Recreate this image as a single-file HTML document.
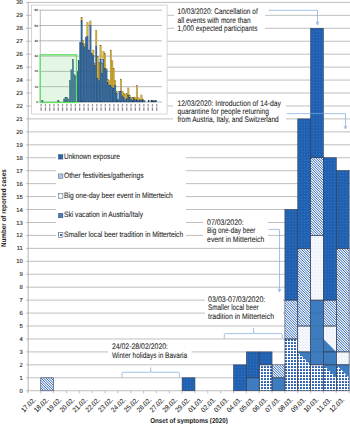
<!DOCTYPE html><html><head><meta charset="utf-8"><style>html,body{margin:0;padding:0;background:#fff;width:350px;height:424px;overflow:hidden}svg{display:block}</style></head><body>
<svg width="350" height="424" viewBox="0 0 350 424" font-family="Liberation Sans, sans-serif" text-rendering="geometricPrecision">
<defs>
<pattern id="pDark" patternUnits="userSpaceOnUse" x="0.5" y="0.5" width="3" height="3"><rect width="3" height="3" fill="#1a5aab"/><rect x="0.25" y="0.25" width="1.5" height="1.5" rx="0.4" fill="#4282cf"/></pattern>
<pattern id="pStripe" patternUnits="userSpaceOnUse" width="2.5" height="2.5"><rect width="2.5" height="2.5" fill="#ffffff"/><path d="M0,0 L0.62,0 L2.5,1.88 L2.5,2.5 L1.88,2.5 L0,0.62 Z M0,1.88 L0,2.5 L0.62,2.5 Z M1.88,0 L2.5,0 L2.5,0.62 Z" fill="#2a68c0"/></pattern>
<pattern id="pLight" patternUnits="userSpaceOnUse" width="3" height="3"><rect width="3" height="3" fill="#fbfcff"/><circle cx="0.75" cy="0.75" r="0.55" fill="#ccdaf0"/><circle cx="2.25" cy="2.25" r="0.55" fill="#ccdaf0"/></pattern>
<pattern id="pBold" patternUnits="userSpaceOnUse" x="0" y="0" width="3" height="3"><rect width="3" height="3" fill="#ffffff"/><rect x="0.0" y="0.0" width="1.95" height="1.95" rx="0.4" fill="#1450aa"/></pattern>
</defs>
<rect width="350" height="424" fill="#fff"/>
<line x1="28.20" y1="390.75" x2="350" y2="390.75" stroke="#bcbcbc" stroke-width="0.95"/>
<line x1="26.2" y1="390.75" x2="28.20" y2="390.75" stroke="#a8a8a8" stroke-width="0.8"/>
<text x="22.8" y="392.80" font-size="5.9" text-anchor="end" fill="#2a2a2a" stroke="#2a2a2a" stroke-width="0.12">0</text>
<line x1="28.20" y1="377.81" x2="350" y2="377.81" stroke="#bcbcbc" stroke-width="0.95"/>
<line x1="26.2" y1="377.81" x2="28.20" y2="377.81" stroke="#a8a8a8" stroke-width="0.8"/>
<text x="22.8" y="379.86" font-size="5.9" text-anchor="end" fill="#2a2a2a" stroke="#2a2a2a" stroke-width="0.12">1</text>
<line x1="28.20" y1="364.86" x2="350" y2="364.86" stroke="#bcbcbc" stroke-width="0.95"/>
<line x1="26.2" y1="364.86" x2="28.20" y2="364.86" stroke="#a8a8a8" stroke-width="0.8"/>
<text x="22.8" y="366.91" font-size="5.9" text-anchor="end" fill="#2a2a2a" stroke="#2a2a2a" stroke-width="0.12">2</text>
<line x1="28.20" y1="351.92" x2="350" y2="351.92" stroke="#bcbcbc" stroke-width="0.95"/>
<line x1="26.2" y1="351.92" x2="28.20" y2="351.92" stroke="#a8a8a8" stroke-width="0.8"/>
<text x="22.8" y="353.97" font-size="5.9" text-anchor="end" fill="#2a2a2a" stroke="#2a2a2a" stroke-width="0.12">3</text>
<line x1="28.20" y1="338.97" x2="350" y2="338.97" stroke="#bcbcbc" stroke-width="0.95"/>
<line x1="26.2" y1="338.97" x2="28.20" y2="338.97" stroke="#a8a8a8" stroke-width="0.8"/>
<text x="22.8" y="341.02" font-size="5.9" text-anchor="end" fill="#2a2a2a" stroke="#2a2a2a" stroke-width="0.12">4</text>
<line x1="28.20" y1="326.02" x2="350" y2="326.02" stroke="#bcbcbc" stroke-width="0.95"/>
<line x1="26.2" y1="326.02" x2="28.20" y2="326.02" stroke="#a8a8a8" stroke-width="0.8"/>
<text x="22.8" y="328.07" font-size="5.9" text-anchor="end" fill="#2a2a2a" stroke="#2a2a2a" stroke-width="0.12">5</text>
<line x1="28.20" y1="313.08" x2="350" y2="313.08" stroke="#bcbcbc" stroke-width="0.95"/>
<line x1="26.2" y1="313.08" x2="28.20" y2="313.08" stroke="#a8a8a8" stroke-width="0.8"/>
<text x="22.8" y="315.13" font-size="5.9" text-anchor="end" fill="#2a2a2a" stroke="#2a2a2a" stroke-width="0.12">6</text>
<line x1="28.20" y1="300.13" x2="350" y2="300.13" stroke="#bcbcbc" stroke-width="0.95"/>
<line x1="26.2" y1="300.13" x2="28.20" y2="300.13" stroke="#a8a8a8" stroke-width="0.8"/>
<text x="22.8" y="302.19" font-size="5.9" text-anchor="end" fill="#2a2a2a" stroke="#2a2a2a" stroke-width="0.12">7</text>
<line x1="28.20" y1="287.19" x2="350" y2="287.19" stroke="#bcbcbc" stroke-width="0.95"/>
<line x1="26.2" y1="287.19" x2="28.20" y2="287.19" stroke="#a8a8a8" stroke-width="0.8"/>
<text x="22.8" y="289.24" font-size="5.9" text-anchor="end" fill="#2a2a2a" stroke="#2a2a2a" stroke-width="0.12">8</text>
<line x1="28.20" y1="274.25" x2="350" y2="274.25" stroke="#bcbcbc" stroke-width="0.95"/>
<line x1="26.2" y1="274.25" x2="28.20" y2="274.25" stroke="#a8a8a8" stroke-width="0.8"/>
<text x="22.8" y="276.30" font-size="5.9" text-anchor="end" fill="#2a2a2a" stroke="#2a2a2a" stroke-width="0.12">9</text>
<line x1="28.20" y1="261.30" x2="350" y2="261.30" stroke="#bcbcbc" stroke-width="0.95"/>
<line x1="26.2" y1="261.30" x2="28.20" y2="261.30" stroke="#a8a8a8" stroke-width="0.8"/>
<text x="22.8" y="263.35" font-size="5.9" text-anchor="end" fill="#2a2a2a" stroke="#2a2a2a" stroke-width="0.12">10</text>
<line x1="28.20" y1="248.35" x2="350" y2="248.35" stroke="#bcbcbc" stroke-width="0.95"/>
<line x1="26.2" y1="248.35" x2="28.20" y2="248.35" stroke="#a8a8a8" stroke-width="0.8"/>
<text x="22.8" y="250.41" font-size="5.9" text-anchor="end" fill="#2a2a2a" stroke="#2a2a2a" stroke-width="0.12">11</text>
<line x1="28.20" y1="235.41" x2="350" y2="235.41" stroke="#bcbcbc" stroke-width="0.95"/>
<line x1="26.2" y1="235.41" x2="28.20" y2="235.41" stroke="#a8a8a8" stroke-width="0.8"/>
<text x="22.8" y="237.46" font-size="5.9" text-anchor="end" fill="#2a2a2a" stroke="#2a2a2a" stroke-width="0.12">12</text>
<line x1="28.20" y1="222.47" x2="350" y2="222.47" stroke="#bcbcbc" stroke-width="0.95"/>
<line x1="26.2" y1="222.47" x2="28.20" y2="222.47" stroke="#a8a8a8" stroke-width="0.8"/>
<text x="22.8" y="224.52" font-size="5.9" text-anchor="end" fill="#2a2a2a" stroke="#2a2a2a" stroke-width="0.12">13</text>
<line x1="28.20" y1="209.52" x2="350" y2="209.52" stroke="#bcbcbc" stroke-width="0.95"/>
<line x1="26.2" y1="209.52" x2="28.20" y2="209.52" stroke="#a8a8a8" stroke-width="0.8"/>
<text x="22.8" y="211.57" font-size="5.9" text-anchor="end" fill="#2a2a2a" stroke="#2a2a2a" stroke-width="0.12">14</text>
<line x1="28.20" y1="196.57" x2="350" y2="196.57" stroke="#bcbcbc" stroke-width="0.95"/>
<line x1="26.2" y1="196.57" x2="28.20" y2="196.57" stroke="#a8a8a8" stroke-width="0.8"/>
<text x="22.8" y="198.62" font-size="5.9" text-anchor="end" fill="#2a2a2a" stroke="#2a2a2a" stroke-width="0.12">15</text>
<line x1="28.20" y1="183.63" x2="350" y2="183.63" stroke="#bcbcbc" stroke-width="0.95"/>
<line x1="26.2" y1="183.63" x2="28.20" y2="183.63" stroke="#a8a8a8" stroke-width="0.8"/>
<text x="22.8" y="185.68" font-size="5.9" text-anchor="end" fill="#2a2a2a" stroke="#2a2a2a" stroke-width="0.12">16</text>
<line x1="28.20" y1="170.69" x2="350" y2="170.69" stroke="#bcbcbc" stroke-width="0.95"/>
<line x1="26.2" y1="170.69" x2="28.20" y2="170.69" stroke="#a8a8a8" stroke-width="0.8"/>
<text x="22.8" y="172.74" font-size="5.9" text-anchor="end" fill="#2a2a2a" stroke="#2a2a2a" stroke-width="0.12">17</text>
<line x1="28.20" y1="157.74" x2="350" y2="157.74" stroke="#bcbcbc" stroke-width="0.95"/>
<line x1="26.2" y1="157.74" x2="28.20" y2="157.74" stroke="#a8a8a8" stroke-width="0.8"/>
<text x="22.8" y="159.79" font-size="5.9" text-anchor="end" fill="#2a2a2a" stroke="#2a2a2a" stroke-width="0.12">18</text>
<line x1="28.20" y1="144.79" x2="350" y2="144.79" stroke="#bcbcbc" stroke-width="0.95"/>
<line x1="26.2" y1="144.79" x2="28.20" y2="144.79" stroke="#a8a8a8" stroke-width="0.8"/>
<text x="22.8" y="146.84" font-size="5.9" text-anchor="end" fill="#2a2a2a" stroke="#2a2a2a" stroke-width="0.12">19</text>
<line x1="28.20" y1="131.85" x2="350" y2="131.85" stroke="#bcbcbc" stroke-width="0.95"/>
<line x1="26.2" y1="131.85" x2="28.20" y2="131.85" stroke="#a8a8a8" stroke-width="0.8"/>
<text x="22.8" y="133.90" font-size="5.9" text-anchor="end" fill="#2a2a2a" stroke="#2a2a2a" stroke-width="0.12">20</text>
<line x1="28.20" y1="118.90" x2="350" y2="118.90" stroke="#bcbcbc" stroke-width="0.95"/>
<line x1="26.2" y1="118.90" x2="28.20" y2="118.90" stroke="#a8a8a8" stroke-width="0.8"/>
<text x="22.8" y="120.95" font-size="5.9" text-anchor="end" fill="#2a2a2a" stroke="#2a2a2a" stroke-width="0.12">21</text>
<line x1="28.20" y1="105.96" x2="350" y2="105.96" stroke="#bcbcbc" stroke-width="0.95"/>
<line x1="26.2" y1="105.96" x2="28.20" y2="105.96" stroke="#a8a8a8" stroke-width="0.8"/>
<text x="22.8" y="108.01" font-size="5.9" text-anchor="end" fill="#2a2a2a" stroke="#2a2a2a" stroke-width="0.12">22</text>
<line x1="28.20" y1="93.01" x2="350" y2="93.01" stroke="#bcbcbc" stroke-width="0.95"/>
<line x1="26.2" y1="93.01" x2="28.20" y2="93.01" stroke="#a8a8a8" stroke-width="0.8"/>
<text x="22.8" y="95.06" font-size="5.9" text-anchor="end" fill="#2a2a2a" stroke="#2a2a2a" stroke-width="0.12">23</text>
<line x1="28.20" y1="80.07" x2="350" y2="80.07" stroke="#bcbcbc" stroke-width="0.95"/>
<line x1="26.2" y1="80.07" x2="28.20" y2="80.07" stroke="#a8a8a8" stroke-width="0.8"/>
<text x="22.8" y="82.12" font-size="5.9" text-anchor="end" fill="#2a2a2a" stroke="#2a2a2a" stroke-width="0.12">24</text>
<line x1="28.20" y1="67.12" x2="350" y2="67.12" stroke="#bcbcbc" stroke-width="0.95"/>
<line x1="26.2" y1="67.12" x2="28.20" y2="67.12" stroke="#a8a8a8" stroke-width="0.8"/>
<text x="22.8" y="69.17" font-size="5.9" text-anchor="end" fill="#2a2a2a" stroke="#2a2a2a" stroke-width="0.12">25</text>
<line x1="28.20" y1="54.18" x2="350" y2="54.18" stroke="#bcbcbc" stroke-width="0.95"/>
<line x1="26.2" y1="54.18" x2="28.20" y2="54.18" stroke="#a8a8a8" stroke-width="0.8"/>
<text x="22.8" y="56.23" font-size="5.9" text-anchor="end" fill="#2a2a2a" stroke="#2a2a2a" stroke-width="0.12">26</text>
<line x1="28.20" y1="41.24" x2="350" y2="41.24" stroke="#bcbcbc" stroke-width="0.95"/>
<line x1="26.2" y1="41.24" x2="28.20" y2="41.24" stroke="#a8a8a8" stroke-width="0.8"/>
<text x="22.8" y="43.29" font-size="5.9" text-anchor="end" fill="#2a2a2a" stroke="#2a2a2a" stroke-width="0.12">27</text>
<line x1="28.20" y1="28.29" x2="350" y2="28.29" stroke="#bcbcbc" stroke-width="0.95"/>
<line x1="26.2" y1="28.29" x2="28.20" y2="28.29" stroke="#a8a8a8" stroke-width="0.8"/>
<text x="22.8" y="30.34" font-size="5.9" text-anchor="end" fill="#2a2a2a" stroke="#2a2a2a" stroke-width="0.12">28</text>
<line x1="28.20" y1="15.34" x2="350" y2="15.34" stroke="#bcbcbc" stroke-width="0.95"/>
<line x1="26.2" y1="15.34" x2="28.20" y2="15.34" stroke="#a8a8a8" stroke-width="0.8"/>
<text x="22.8" y="17.39" font-size="5.9" text-anchor="end" fill="#2a2a2a" stroke="#2a2a2a" stroke-width="0.12">29</text>
<line x1="28.20" y1="2.40" x2="350" y2="2.40" stroke="#bcbcbc" stroke-width="0.95"/>
<line x1="26.2" y1="2.40" x2="28.20" y2="2.40" stroke="#a8a8a8" stroke-width="0.8"/>
<text x="22.8" y="4.45" font-size="5.9" text-anchor="end" fill="#2a2a2a" stroke="#2a2a2a" stroke-width="0.12">30</text>
<line x1="28.20" y1="2" x2="28.20" y2="391.25" stroke="#a8a8a8" stroke-width="0.85"/>
<line x1="27.90" y1="390.75" x2="27.90" y2="393.35" stroke="#b4b4b4" stroke-width="0.8"/>
<line x1="40.75" y1="390.75" x2="40.75" y2="393.35" stroke="#b4b4b4" stroke-width="0.8"/>
<line x1="53.60" y1="390.75" x2="53.60" y2="393.35" stroke="#b4b4b4" stroke-width="0.8"/>
<line x1="66.45" y1="390.75" x2="66.45" y2="393.35" stroke="#b4b4b4" stroke-width="0.8"/>
<line x1="79.30" y1="390.75" x2="79.30" y2="393.35" stroke="#b4b4b4" stroke-width="0.8"/>
<line x1="92.15" y1="390.75" x2="92.15" y2="393.35" stroke="#b4b4b4" stroke-width="0.8"/>
<line x1="105.00" y1="390.75" x2="105.00" y2="393.35" stroke="#b4b4b4" stroke-width="0.8"/>
<line x1="117.85" y1="390.75" x2="117.85" y2="393.35" stroke="#b4b4b4" stroke-width="0.8"/>
<line x1="130.70" y1="390.75" x2="130.70" y2="393.35" stroke="#b4b4b4" stroke-width="0.8"/>
<line x1="143.55" y1="390.75" x2="143.55" y2="393.35" stroke="#b4b4b4" stroke-width="0.8"/>
<line x1="156.40" y1="390.75" x2="156.40" y2="393.35" stroke="#b4b4b4" stroke-width="0.8"/>
<line x1="169.25" y1="390.75" x2="169.25" y2="393.35" stroke="#b4b4b4" stroke-width="0.8"/>
<line x1="182.10" y1="390.75" x2="182.10" y2="393.35" stroke="#b4b4b4" stroke-width="0.8"/>
<line x1="194.95" y1="390.75" x2="194.95" y2="393.35" stroke="#b4b4b4" stroke-width="0.8"/>
<line x1="207.80" y1="390.75" x2="207.80" y2="393.35" stroke="#b4b4b4" stroke-width="0.8"/>
<line x1="220.65" y1="390.75" x2="220.65" y2="393.35" stroke="#b4b4b4" stroke-width="0.8"/>
<line x1="233.50" y1="390.75" x2="233.50" y2="393.35" stroke="#b4b4b4" stroke-width="0.8"/>
<line x1="246.35" y1="390.75" x2="246.35" y2="393.35" stroke="#b4b4b4" stroke-width="0.8"/>
<line x1="259.20" y1="390.75" x2="259.20" y2="393.35" stroke="#b4b4b4" stroke-width="0.8"/>
<line x1="272.05" y1="390.75" x2="272.05" y2="393.35" stroke="#b4b4b4" stroke-width="0.8"/>
<line x1="284.90" y1="390.75" x2="284.90" y2="393.35" stroke="#b4b4b4" stroke-width="0.8"/>
<line x1="297.75" y1="390.75" x2="297.75" y2="393.35" stroke="#b4b4b4" stroke-width="0.8"/>
<line x1="310.60" y1="390.75" x2="310.60" y2="393.35" stroke="#b4b4b4" stroke-width="0.8"/>
<line x1="323.45" y1="390.75" x2="323.45" y2="393.35" stroke="#b4b4b4" stroke-width="0.8"/>
<line x1="336.30" y1="390.75" x2="336.30" y2="393.35" stroke="#b4b4b4" stroke-width="0.8"/>
<line x1="349.15" y1="390.75" x2="349.15" y2="393.35" stroke="#b4b4b4" stroke-width="0.8"/>
<clipPath id="c1"><rect x="40.75" y="377.81" width="12.85" height="12.94"/></clipPath>
<rect x="40.75" y="377.81" width="12.85" height="12.94" fill="#fff"/>
<path clip-path="url(#c1)" d="M25.75,377.81L38.69,390.75M28.25,377.81L41.19,390.75M30.75,377.81L43.69,390.75M33.25,377.81L46.19,390.75M35.75,377.81L48.69,390.75M38.25,377.81L51.19,390.75M40.75,377.81L53.69,390.75M43.25,377.81L56.19,390.75M45.75,377.81L58.69,390.75M48.25,377.81L61.19,390.75M50.75,377.81L63.69,390.75M53.25,377.81L66.19,390.75M55.75,377.81L68.69,390.75" stroke="#2862c0" stroke-width="0.98" fill="none"/>
<rect x="182.10" y="377.81" width="12.85" height="12.94" fill="url(#pDark)"/>
<rect x="233.50" y="364.86" width="12.85" height="25.89" fill="url(#pDark)"/>
<rect x="246.35" y="377.81" width="12.85" height="12.94" fill="#3d7dbf"/>
<rect x="246.35" y="351.92" width="12.85" height="25.89" fill="url(#pDark)"/>
<rect x="259.20" y="364.86" width="12.85" height="25.89" fill="url(#pBold)"/>
<rect x="259.20" y="351.92" width="12.85" height="12.94" fill="url(#pDark)"/>
<rect x="272.05" y="377.81" width="12.85" height="12.94" fill="#3d7dbf"/>
<clipPath id="c2"><rect x="272.05" y="364.86" width="12.85" height="12.94"/></clipPath>
<rect x="272.05" y="364.86" width="12.85" height="12.94" fill="#fff"/>
<path clip-path="url(#c2)" d="M257.05,364.86L270.00,377.81M259.55,364.86L272.50,377.81M262.05,364.86L275.00,377.81M264.55,364.86L277.50,377.81M267.05,364.86L280.00,377.81M269.55,364.86L282.50,377.81M272.05,364.86L285.00,377.81M274.55,364.86L287.50,377.81M277.05,364.86L290.00,377.81M279.55,364.86L292.50,377.81M282.05,364.86L295.00,377.81M284.55,364.86L297.50,377.81M287.05,364.86L300.00,377.81" stroke="#2862c0" stroke-width="0.98" fill="none"/>
<rect x="284.90" y="338.97" width="12.85" height="51.78" fill="url(#pBold)"/>
<clipPath id="c3"><rect x="284.90" y="300.13" width="12.85" height="38.84"/></clipPath>
<rect x="284.90" y="300.13" width="12.85" height="38.84" fill="#fff"/>
<path clip-path="url(#c3)" d="M244.90,300.13L283.74,338.97M247.40,300.13L286.24,338.97M249.90,300.13L288.74,338.97M252.40,300.13L291.24,338.97M254.90,300.13L293.74,338.97M257.40,300.13L296.24,338.97M259.90,300.13L298.74,338.97M262.40,300.13L301.24,338.97M264.90,300.13L303.74,338.97M267.40,300.13L306.24,338.97M269.90,300.13L308.74,338.97M272.40,300.13L311.24,338.97M274.90,300.13L313.74,338.97M277.40,300.13L316.24,338.97M279.90,300.13L318.74,338.97M282.40,300.13L321.24,338.97M284.90,300.13L323.74,338.97M287.40,300.13L326.24,338.97M289.90,300.13L328.74,338.97M292.40,300.13L331.24,338.97M294.90,300.13L333.74,338.97M297.40,300.13L336.24,338.97M299.90,300.13L338.74,338.97" stroke="#2862c0" stroke-width="0.98" fill="none"/>
<rect x="284.90" y="209.52" width="12.85" height="90.62" fill="url(#pDark)"/>
<rect x="297.75" y="351.92" width="12.85" height="38.83" fill="url(#pBold)"/>
<rect x="297.75" y="326.02" width="12.85" height="25.89" fill="url(#pLight)"/>
<clipPath id="c4"><rect x="297.75" y="248.35" width="12.85" height="77.67"/></clipPath>
<rect x="297.75" y="248.35" width="12.85" height="77.67" fill="#fff"/>
<path clip-path="url(#c4)" d="M217.75,248.35L295.42,326.02M220.25,248.35L297.92,326.02M222.75,248.35L300.42,326.02M225.25,248.35L302.92,326.02M227.75,248.35L305.42,326.02M230.25,248.35L307.92,326.02M232.75,248.35L310.42,326.02M235.25,248.35L312.92,326.02M237.75,248.35L315.42,326.02M240.25,248.35L317.92,326.02M242.75,248.35L320.42,326.02M245.25,248.35L322.92,326.02M247.75,248.35L325.42,326.02M250.25,248.35L327.92,326.02M252.75,248.35L330.42,326.02M255.25,248.35L332.92,326.02M257.75,248.35L335.42,326.02M260.25,248.35L337.92,326.02M262.75,248.35L340.42,326.02M265.25,248.35L342.92,326.02M267.75,248.35L345.42,326.02M270.25,248.35L347.92,326.02M272.75,248.35L350.42,326.02M275.25,248.35L352.92,326.02M277.75,248.35L355.42,326.02M280.25,248.35L357.92,326.02M282.75,248.35L360.42,326.02M285.25,248.35L362.92,326.02M287.75,248.35L365.42,326.02M290.25,248.35L367.92,326.02M292.75,248.35L370.42,326.02M295.25,248.35L372.92,326.02M297.75,248.35L375.42,326.02M300.25,248.35L377.92,326.02M302.75,248.35L380.42,326.02M305.25,248.35L382.92,326.02M307.75,248.35L385.42,326.02M310.25,248.35L387.92,326.02M312.75,248.35L390.42,326.02" stroke="#2862c0" stroke-width="0.98" fill="none"/>
<rect x="297.75" y="118.90" width="12.85" height="129.45" fill="url(#pDark)"/>
<rect x="310.60" y="364.86" width="12.85" height="25.89" fill="url(#pBold)"/>
<rect x="310.60" y="300.13" width="12.85" height="64.73" fill="#3d7dbf"/>
<rect x="310.60" y="235.41" width="12.85" height="64.72" fill="url(#pLight)"/>
<clipPath id="c5"><rect x="310.60" y="157.74" width="12.85" height="77.67"/></clipPath>
<rect x="310.60" y="157.74" width="12.85" height="77.67" fill="#fff"/>
<path clip-path="url(#c5)" d="M230.60,157.74L308.27,235.41M233.10,157.74L310.77,235.41M235.60,157.74L313.27,235.41M238.10,157.74L315.77,235.41M240.60,157.74L318.27,235.41M243.10,157.74L320.77,235.41M245.60,157.74L323.27,235.41M248.10,157.74L325.77,235.41M250.60,157.74L328.27,235.41M253.10,157.74L330.77,235.41M255.60,157.74L333.27,235.41M258.10,157.74L335.77,235.41M260.60,157.74L338.27,235.41M263.10,157.74L340.77,235.41M265.60,157.74L343.27,235.41M268.10,157.74L345.77,235.41M270.60,157.74L348.27,235.41M273.10,157.74L350.77,235.41M275.60,157.74L353.27,235.41M278.10,157.74L355.77,235.41M280.60,157.74L358.27,235.41M283.10,157.74L360.77,235.41M285.60,157.74L363.27,235.41M288.10,157.74L365.77,235.41M290.60,157.74L368.27,235.41M293.10,157.74L370.77,235.41M295.60,157.74L373.27,235.41M298.10,157.74L375.77,235.41M300.60,157.74L378.27,235.41M303.10,157.74L380.77,235.41M305.60,157.74L383.27,235.41M308.10,157.74L385.77,235.41M310.60,157.74L388.27,235.41M313.10,157.74L390.77,235.41M315.60,157.74L393.27,235.41M318.10,157.74L395.77,235.41M320.60,157.74L398.27,235.41M323.10,157.74L400.77,235.41M325.60,157.74L403.27,235.41" stroke="#2862c0" stroke-width="0.98" fill="none"/>
<rect x="310.60" y="28.29" width="12.85" height="129.45" fill="url(#pDark)"/>
<rect x="323.45" y="364.86" width="12.85" height="25.89" fill="url(#pBold)"/>
<rect x="323.45" y="351.92" width="12.85" height="12.94" fill="#3d7dbf"/>
<rect x="323.45" y="326.02" width="12.85" height="25.89" fill="url(#pLight)"/>
<clipPath id="c6"><rect x="323.45" y="300.13" width="12.85" height="25.89"/></clipPath>
<rect x="323.45" y="300.13" width="12.85" height="25.89" fill="#fff"/>
<path clip-path="url(#c6)" d="M295.95,300.13L321.84,326.02M298.45,300.13L324.34,326.02M300.95,300.13L326.84,326.02M303.45,300.13L329.34,326.02M305.95,300.13L331.84,326.02M308.45,300.13L334.34,326.02M310.95,300.13L336.84,326.02M313.45,300.13L339.34,326.02M315.95,300.13L341.84,326.02M318.45,300.13L344.34,326.02M320.95,300.13L346.84,326.02M323.45,300.13L349.34,326.02M325.95,300.13L351.84,326.02M328.45,300.13L354.34,326.02M330.95,300.13L356.84,326.02M333.45,300.13L359.34,326.02M335.95,300.13L361.84,326.02M338.45,300.13L364.34,326.02" stroke="#2862c0" stroke-width="0.98" fill="none"/>
<rect x="323.45" y="157.74" width="12.85" height="142.39" fill="url(#pDark)"/>
<rect x="336.30" y="364.86" width="12.85" height="25.89" fill="url(#pBold)"/>
<rect x="336.30" y="351.92" width="12.85" height="12.94" fill="url(#pLight)"/>
<clipPath id="c7"><rect x="336.30" y="248.35" width="12.85" height="103.56"/></clipPath>
<rect x="336.30" y="248.35" width="12.85" height="103.56" fill="#fff"/>
<path clip-path="url(#c7)" d="M231.30,248.35L334.86,351.92M233.80,248.35L337.36,351.92M236.30,248.35L339.86,351.92M238.80,248.35L342.36,351.92M241.30,248.35L344.86,351.92M243.80,248.35L347.36,351.92M246.30,248.35L349.86,351.92M248.80,248.35L352.36,351.92M251.30,248.35L354.86,351.92M253.80,248.35L357.36,351.92M256.30,248.35L359.86,351.92M258.80,248.35L362.36,351.92M261.30,248.35L364.86,351.92M263.80,248.35L367.36,351.92M266.30,248.35L369.86,351.92M268.80,248.35L372.36,351.92M271.30,248.35L374.86,351.92M273.80,248.35L377.36,351.92M276.30,248.35L379.86,351.92M278.80,248.35L382.36,351.92M281.30,248.35L384.86,351.92M283.80,248.35L387.36,351.92M286.30,248.35L389.86,351.92M288.80,248.35L392.36,351.92M291.30,248.35L394.86,351.92M293.80,248.35L397.36,351.92M296.30,248.35L399.86,351.92M298.80,248.35L402.36,351.92M301.30,248.35L404.86,351.92M303.80,248.35L407.36,351.92M306.30,248.35L409.86,351.92M308.80,248.35L412.36,351.92M311.30,248.35L414.86,351.92M313.80,248.35L417.36,351.92M316.30,248.35L419.86,351.92M318.80,248.35L422.36,351.92M321.30,248.35L424.86,351.92M323.80,248.35L427.36,351.92M326.30,248.35L429.86,351.92M328.80,248.35L432.36,351.92M331.30,248.35L434.86,351.92M333.80,248.35L437.36,351.92M336.30,248.35L439.86,351.92M338.80,248.35L442.36,351.92M341.30,248.35L444.86,351.92M343.80,248.35L447.36,351.92M346.30,248.35L449.86,351.92M348.80,248.35L452.36,351.92M351.30,248.35L454.86,351.92" stroke="#2862c0" stroke-width="0.98" fill="none"/>
<rect x="336.30" y="170.69" width="12.85" height="77.67" fill="url(#pDark)"/>
<polygon points="297.75,351.92 310.60,351.92 310.60,364.86" fill="#3d7dbf"/>
<polygon points="323.45,364.86 336.30,364.86 336.30,377.81" fill="#3d7dbf"/>
<polygon points="336.30,364.86 349.15,364.86 349.15,377.81" fill="#3d7dbf"/>
<polygon points="323.45,338.97 323.45,351.92 336.30,351.92" fill="#3d7dbf"/>
<line x1="310.60" y1="351.92" x2="323.45" y2="351.92" stroke="#2d5a8a" stroke-width="0.5" opacity="0.6"/>
<line x1="310.60" y1="338.97" x2="323.45" y2="338.97" stroke="#2d5a8a" stroke-width="0.5" opacity="0.6"/>
<line x1="310.60" y1="326.02" x2="323.45" y2="326.02" stroke="#2d5a8a" stroke-width="0.5" opacity="0.6"/>
<line x1="310.60" y1="313.08" x2="323.45" y2="313.08" stroke="#2d5a8a" stroke-width="0.5" opacity="0.6"/>
<rect x="40.75" y="377.81" width="12.85" height="12.94" fill="none" stroke="#34405a" stroke-width="0.6"/>
<rect x="182.10" y="377.81" width="12.85" height="12.94" fill="none" stroke="#34405a" stroke-width="0.6"/>
<rect x="233.50" y="364.86" width="12.85" height="25.89" fill="none" stroke="#34405a" stroke-width="0.6"/>
<rect x="246.35" y="377.81" width="12.85" height="12.94" fill="none" stroke="#34405a" stroke-width="0.6"/>
<rect x="246.35" y="351.92" width="12.85" height="25.89" fill="none" stroke="#34405a" stroke-width="0.6"/>
<rect x="259.20" y="364.86" width="12.85" height="25.89" fill="none" stroke="#34405a" stroke-width="0.6"/>
<rect x="259.20" y="351.92" width="12.85" height="12.94" fill="none" stroke="#34405a" stroke-width="0.6"/>
<rect x="272.05" y="377.81" width="12.85" height="12.94" fill="none" stroke="#34405a" stroke-width="0.6"/>
<rect x="272.05" y="364.86" width="12.85" height="12.94" fill="none" stroke="#34405a" stroke-width="0.6"/>
<rect x="284.90" y="338.97" width="12.85" height="51.78" fill="none" stroke="#34405a" stroke-width="0.6"/>
<rect x="284.90" y="300.13" width="12.85" height="38.84" fill="none" stroke="#34405a" stroke-width="0.6"/>
<rect x="284.90" y="209.52" width="12.85" height="90.62" fill="none" stroke="#34405a" stroke-width="0.6"/>
<rect x="297.75" y="351.92" width="12.85" height="38.83" fill="none" stroke="#34405a" stroke-width="0.6"/>
<rect x="297.75" y="326.02" width="12.85" height="25.89" fill="none" stroke="#34405a" stroke-width="0.6"/>
<rect x="297.75" y="248.35" width="12.85" height="77.67" fill="none" stroke="#34405a" stroke-width="0.6"/>
<rect x="297.75" y="118.90" width="12.85" height="129.45" fill="none" stroke="#34405a" stroke-width="0.6"/>
<rect x="310.60" y="364.86" width="12.85" height="25.89" fill="none" stroke="#34405a" stroke-width="0.6"/>
<rect x="310.60" y="300.13" width="12.85" height="64.73" fill="none" stroke="#34405a" stroke-width="0.6"/>
<rect x="310.60" y="235.41" width="12.85" height="64.72" fill="none" stroke="#34405a" stroke-width="0.6"/>
<rect x="310.60" y="157.74" width="12.85" height="77.67" fill="none" stroke="#34405a" stroke-width="0.6"/>
<rect x="310.60" y="28.29" width="12.85" height="129.45" fill="none" stroke="#34405a" stroke-width="0.6"/>
<rect x="323.45" y="364.86" width="12.85" height="25.89" fill="none" stroke="#34405a" stroke-width="0.6"/>
<rect x="323.45" y="351.92" width="12.85" height="12.94" fill="none" stroke="#34405a" stroke-width="0.6"/>
<rect x="323.45" y="326.02" width="12.85" height="25.89" fill="none" stroke="#34405a" stroke-width="0.6"/>
<rect x="323.45" y="300.13" width="12.85" height="25.89" fill="none" stroke="#34405a" stroke-width="0.6"/>
<rect x="323.45" y="157.74" width="12.85" height="142.39" fill="none" stroke="#34405a" stroke-width="0.6"/>
<rect x="336.30" y="364.86" width="12.85" height="25.89" fill="none" stroke="#34405a" stroke-width="0.6"/>
<rect x="336.30" y="351.92" width="12.85" height="12.94" fill="none" stroke="#34405a" stroke-width="0.6"/>
<rect x="336.30" y="248.35" width="12.85" height="103.56" fill="none" stroke="#34405a" stroke-width="0.6"/>
<rect x="336.30" y="170.69" width="12.85" height="77.67" fill="none" stroke="#34405a" stroke-width="0.6"/>
<rect x="31.6" y="5.1" width="135.5" height="108.9" fill="#fff" stroke="#d0d0d0" stroke-width="0.9"/>
<line x1="39.3" y1="102.00" x2="161.9" y2="102.00" stroke="#a6a6a6" stroke-width="0.8"/>
<text x="37.9" y="103.05" font-size="3.0" text-anchor="end" fill="#505050" stroke="#505050" stroke-width="0.15">0</text>
<line x1="39.3" y1="86.70" x2="161.9" y2="86.70" stroke="#a6a6a6" stroke-width="0.8"/>
<text x="37.9" y="87.75" font-size="3.0" text-anchor="end" fill="#505050" stroke="#505050" stroke-width="0.15">10</text>
<line x1="39.3" y1="71.40" x2="161.9" y2="71.40" stroke="#a6a6a6" stroke-width="0.8"/>
<text x="37.9" y="72.45" font-size="3.0" text-anchor="end" fill="#505050" stroke="#505050" stroke-width="0.15">20</text>
<line x1="39.3" y1="56.10" x2="161.9" y2="56.10" stroke="#a6a6a6" stroke-width="0.8"/>
<text x="37.9" y="57.15" font-size="3.0" text-anchor="end" fill="#505050" stroke="#505050" stroke-width="0.15">30</text>
<line x1="39.3" y1="40.80" x2="161.9" y2="40.80" stroke="#a6a6a6" stroke-width="0.8"/>
<text x="37.9" y="41.85" font-size="3.0" text-anchor="end" fill="#505050" stroke="#505050" stroke-width="0.15">40</text>
<line x1="39.3" y1="25.50" x2="161.9" y2="25.50" stroke="#a6a6a6" stroke-width="0.8"/>
<text x="37.9" y="26.55" font-size="3.0" text-anchor="end" fill="#505050" stroke="#505050" stroke-width="0.15">50</text>
<line x1="39.3" y1="10.20" x2="161.9" y2="10.20" stroke="#a6a6a6" stroke-width="0.8"/>
<text x="37.9" y="11.25" font-size="3.0" text-anchor="end" fill="#505050" stroke="#505050" stroke-width="0.15">60</text>
<line x1="40.3" y1="10" x2="40.3" y2="102.0" stroke="#a0a0a0" stroke-width="0.7"/>
<rect x="41.56" y="100.32" width="1.46" height="1.68" fill="#1c2c4c" stroke="#1d3550" stroke-width="0.25"/>
<rect x="57.60" y="100.32" width="1.46" height="1.68" fill="#1c2c4c" stroke="#1d3550" stroke-width="0.25"/>
<rect x="63.43" y="98.94" width="1.46" height="3.06" fill="#2f6aa3" stroke="#1d3550" stroke-width="0.25"/>
<rect x="64.89" y="97.41" width="1.46" height="4.59" fill="#2f6aa3" stroke="#1d3550" stroke-width="0.25"/>
<rect x="66.34" y="97.41" width="1.46" height="4.59" fill="#2f6aa3" stroke="#1d3550" stroke-width="0.25"/>
<rect x="67.80" y="98.94" width="1.46" height="3.06" fill="#2f6aa3" stroke="#1d3550" stroke-width="0.25"/>
<rect x="69.26" y="80.58" width="1.46" height="21.42" fill="#2f6aa3" stroke="#1d3550" stroke-width="0.25"/>
<rect x="70.72" y="69.87" width="1.46" height="32.13" fill="#2f6aa3" stroke="#1d3550" stroke-width="0.25"/>
<rect x="72.18" y="59.16" width="1.46" height="42.84" fill="#2f6aa3" stroke="#1d3550" stroke-width="0.25"/>
<rect x="73.63" y="74.46" width="1.46" height="27.54" fill="#2f6aa3" stroke="#1d3550" stroke-width="0.25"/>
<rect x="75.09" y="75.99" width="1.46" height="26.01" fill="#2f6aa3" stroke="#1d3550" stroke-width="0.25"/>
<rect x="76.55" y="71.40" width="1.46" height="30.60" fill="#2f6aa3" stroke="#1d3550" stroke-width="0.25"/>
<rect x="78.01" y="60.69" width="1.46" height="41.31" fill="#2f6aa3" stroke="#1d3550" stroke-width="0.25"/>
<rect x="79.47" y="42.33" width="1.46" height="59.67" fill="#2f6aa3" stroke="#1d3550" stroke-width="0.25"/>
<rect x="80.92" y="17.85" width="1.46" height="3.06" fill="#d9b12c" stroke="#6b5a20" stroke-width="0.25"/>
<rect x="80.92" y="20.91" width="1.46" height="81.09" fill="#2f6aa3" stroke="#1d3550" stroke-width="0.25"/>
<rect x="82.38" y="40.80" width="1.46" height="3.06" fill="#d9b12c" stroke="#6b5a20" stroke-width="0.25"/>
<rect x="82.38" y="43.86" width="1.46" height="58.14" fill="#2f6aa3" stroke="#1d3550" stroke-width="0.25"/>
<rect x="83.84" y="43.86" width="1.46" height="3.06" fill="#d9b12c" stroke="#6b5a20" stroke-width="0.25"/>
<rect x="83.84" y="46.92" width="1.46" height="55.08" fill="#2f6aa3" stroke="#1d3550" stroke-width="0.25"/>
<rect x="85.30" y="37.74" width="1.46" height="64.26" fill="#2f6aa3" stroke="#1d3550" stroke-width="0.25"/>
<rect x="86.76" y="22.44" width="1.46" height="13.77" fill="#d9b12c" stroke="#6b5a20" stroke-width="0.25"/>
<rect x="86.76" y="36.21" width="1.46" height="65.79" fill="#2f6aa3" stroke="#1d3550" stroke-width="0.25"/>
<rect x="88.21" y="49.98" width="1.46" height="52.02" fill="#2f6aa3" stroke="#1d3550" stroke-width="0.25"/>
<rect x="89.67" y="20.91" width="1.46" height="4.59" fill="#d9b12c" stroke="#6b5a20" stroke-width="0.25"/>
<rect x="89.67" y="25.50" width="1.46" height="76.50" fill="#2f6aa3" stroke="#1d3550" stroke-width="0.25"/>
<rect x="91.13" y="53.04" width="1.46" height="48.96" fill="#2f6aa3" stroke="#1d3550" stroke-width="0.25"/>
<rect x="92.59" y="49.98" width="1.46" height="5.36" fill="#d9b12c" stroke="#6b5a20" stroke-width="0.25"/>
<rect x="92.59" y="55.34" width="1.46" height="46.66" fill="#2f6aa3" stroke="#1d3550" stroke-width="0.25"/>
<rect x="94.05" y="63.75" width="1.46" height="1.53" fill="#d9b12c" stroke="#6b5a20" stroke-width="0.25"/>
<rect x="94.05" y="65.28" width="1.46" height="36.72" fill="#2f6aa3" stroke="#1d3550" stroke-width="0.25"/>
<rect x="95.50" y="30.09" width="1.46" height="16.06" fill="#d9b12c" stroke="#6b5a20" stroke-width="0.25"/>
<rect x="95.50" y="46.16" width="1.46" height="55.84" fill="#2f6aa3" stroke="#1d3550" stroke-width="0.25"/>
<rect x="96.96" y="56.56" width="1.46" height="22.19" fill="#d9b12c" stroke="#6b5a20" stroke-width="0.25"/>
<rect x="96.96" y="78.74" width="1.46" height="23.26" fill="#2f6aa3" stroke="#1d3550" stroke-width="0.25"/>
<rect x="98.42" y="62.22" width="1.46" height="18.36" fill="#d9b12c" stroke="#6b5a20" stroke-width="0.25"/>
<rect x="98.42" y="80.58" width="1.46" height="21.42" fill="#2f6aa3" stroke="#1d3550" stroke-width="0.25"/>
<rect x="99.88" y="45.39" width="1.46" height="13.77" fill="#d9b12c" stroke="#6b5a20" stroke-width="0.25"/>
<rect x="99.88" y="59.16" width="1.46" height="42.84" fill="#2f6aa3" stroke="#1d3550" stroke-width="0.25"/>
<rect x="101.34" y="62.98" width="1.46" height="10.56" fill="#d9b12c" stroke="#6b5a20" stroke-width="0.25"/>
<rect x="101.34" y="73.54" width="1.46" height="28.46" fill="#2f6aa3" stroke="#1d3550" stroke-width="0.25"/>
<rect x="102.79" y="51.51" width="1.46" height="7.65" fill="#d9b12c" stroke="#6b5a20" stroke-width="0.25"/>
<rect x="102.79" y="59.16" width="1.46" height="42.84" fill="#2f6aa3" stroke="#1d3550" stroke-width="0.25"/>
<rect x="104.25" y="53.04" width="1.46" height="15.30" fill="#d9b12c" stroke="#6b5a20" stroke-width="0.25"/>
<rect x="104.25" y="68.34" width="1.46" height="33.66" fill="#2f6aa3" stroke="#1d3550" stroke-width="0.25"/>
<rect x="105.71" y="68.34" width="1.46" height="1.53" fill="#d9b12c" stroke="#6b5a20" stroke-width="0.25"/>
<rect x="105.71" y="69.87" width="1.46" height="32.13" fill="#2f6aa3" stroke="#1d3550" stroke-width="0.25"/>
<rect x="107.17" y="79.05" width="1.46" height="3.83" fill="#d9b12c" stroke="#6b5a20" stroke-width="0.25"/>
<rect x="107.17" y="82.88" width="1.46" height="19.12" fill="#2f6aa3" stroke="#1d3550" stroke-width="0.25"/>
<rect x="108.63" y="80.58" width="1.46" height="4.59" fill="#d9b12c" stroke="#6b5a20" stroke-width="0.25"/>
<rect x="108.63" y="85.17" width="1.46" height="16.83" fill="#2f6aa3" stroke="#1d3550" stroke-width="0.25"/>
<rect x="110.08" y="49.98" width="1.46" height="35.65" fill="#d9b12c" stroke="#6b5a20" stroke-width="0.25"/>
<rect x="110.08" y="85.63" width="1.46" height="16.37" fill="#2f6aa3" stroke="#1d3550" stroke-width="0.25"/>
<rect x="111.54" y="60.69" width="1.46" height="26.78" fill="#d9b12c" stroke="#6b5a20" stroke-width="0.25"/>
<rect x="111.54" y="87.47" width="1.46" height="14.53" fill="#2f6aa3" stroke="#1d3550" stroke-width="0.25"/>
<rect x="113.00" y="68.34" width="1.46" height="19.89" fill="#d9b12c" stroke="#6b5a20" stroke-width="0.25"/>
<rect x="113.00" y="88.23" width="1.46" height="13.77" fill="#2f6aa3" stroke="#1d3550" stroke-width="0.25"/>
<rect x="114.46" y="80.58" width="1.46" height="4.59" fill="#d9b12c" stroke="#6b5a20" stroke-width="0.25"/>
<rect x="114.46" y="85.17" width="1.46" height="16.83" fill="#2f6aa3" stroke="#1d3550" stroke-width="0.25"/>
<rect x="115.92" y="91.29" width="1.46" height="2.14" fill="#d9b12c" stroke="#6b5a20" stroke-width="0.25"/>
<rect x="115.92" y="93.43" width="1.46" height="8.57" fill="#2f6aa3" stroke="#1d3550" stroke-width="0.25"/>
<rect x="117.37" y="99.70" width="1.46" height="2.30" fill="#2f6aa3" stroke="#1d3550" stroke-width="0.25"/>
<rect x="118.83" y="91.29" width="1.46" height="10.71" fill="#2f6aa3" stroke="#1d3550" stroke-width="0.25"/>
<rect x="120.29" y="79.05" width="1.46" height="12.24" fill="#d9b12c" stroke="#6b5a20" stroke-width="0.25"/>
<rect x="120.29" y="91.29" width="1.46" height="10.71" fill="#2f6aa3" stroke="#1d3550" stroke-width="0.25"/>
<rect x="121.75" y="91.29" width="1.46" height="4.59" fill="#d9b12c" stroke="#6b5a20" stroke-width="0.25"/>
<rect x="121.75" y="95.88" width="1.46" height="6.12" fill="#2f6aa3" stroke="#1d3550" stroke-width="0.25"/>
<rect x="123.21" y="93.43" width="1.46" height="4.28" fill="#d9b12c" stroke="#6b5a20" stroke-width="0.25"/>
<rect x="123.21" y="97.72" width="1.46" height="4.28" fill="#2f6aa3" stroke="#1d3550" stroke-width="0.25"/>
<rect x="124.66" y="94.04" width="1.46" height="5.66" fill="#d9b12c" stroke="#6b5a20" stroke-width="0.25"/>
<rect x="124.66" y="99.70" width="1.46" height="2.30" fill="#2f6aa3" stroke="#1d3550" stroke-width="0.25"/>
<rect x="126.12" y="93.58" width="1.46" height="5.36" fill="#d9b12c" stroke="#6b5a20" stroke-width="0.25"/>
<rect x="126.12" y="98.94" width="1.46" height="3.06" fill="#2f6aa3" stroke="#1d3550" stroke-width="0.25"/>
<rect x="127.58" y="87.92" width="1.46" height="7.19" fill="#d9b12c" stroke="#6b5a20" stroke-width="0.25"/>
<rect x="127.58" y="95.11" width="1.46" height="6.89" fill="#2f6aa3" stroke="#1d3550" stroke-width="0.25"/>
<rect x="129.04" y="94.96" width="1.46" height="2.30" fill="#d9b12c" stroke="#6b5a20" stroke-width="0.25"/>
<rect x="129.04" y="97.26" width="1.46" height="4.74" fill="#2f6aa3" stroke="#1d3550" stroke-width="0.25"/>
<rect x="130.50" y="97.72" width="1.46" height="1.99" fill="#d9b12c" stroke="#6b5a20" stroke-width="0.25"/>
<rect x="130.50" y="99.70" width="1.46" height="2.30" fill="#2f6aa3" stroke="#1d3550" stroke-width="0.25"/>
<rect x="131.95" y="97.72" width="1.46" height="2.45" fill="#d9b12c" stroke="#6b5a20" stroke-width="0.25"/>
<rect x="131.95" y="100.16" width="1.46" height="1.84" fill="#2f6aa3" stroke="#1d3550" stroke-width="0.25"/>
<rect x="133.41" y="97.41" width="1.46" height="1.53" fill="#d9b12c" stroke="#6b5a20" stroke-width="0.25"/>
<rect x="133.41" y="98.94" width="1.46" height="3.06" fill="#2f6aa3" stroke="#1d3550" stroke-width="0.25"/>
<rect x="134.87" y="97.41" width="1.46" height="2.30" fill="#d9b12c" stroke="#6b5a20" stroke-width="0.25"/>
<rect x="134.87" y="99.70" width="1.46" height="2.30" fill="#2f6aa3" stroke="#1d3550" stroke-width="0.25"/>
<rect x="136.33" y="85.78" width="1.46" height="14.23" fill="#d9b12c" stroke="#6b5a20" stroke-width="0.25"/>
<rect x="136.33" y="100.01" width="1.46" height="1.99" fill="#2f6aa3" stroke="#1d3550" stroke-width="0.25"/>
<rect x="137.79" y="97.72" width="1.46" height="2.75" fill="#d9b12c" stroke="#6b5a20" stroke-width="0.25"/>
<rect x="137.79" y="100.47" width="1.46" height="1.53" fill="#2f6aa3" stroke="#1d3550" stroke-width="0.25"/>
<rect x="139.24" y="99.70" width="1.46" height="0.77" fill="#d9b12c" stroke="#6b5a20" stroke-width="0.25"/>
<rect x="139.24" y="100.47" width="1.46" height="1.53" fill="#2f6aa3" stroke="#1d3550" stroke-width="0.25"/>
<rect x="140.70" y="94.96" width="1.46" height="5.05" fill="#d9b12c" stroke="#6b5a20" stroke-width="0.25"/>
<rect x="140.70" y="100.01" width="1.46" height="1.99" fill="#2f6aa3" stroke="#1d3550" stroke-width="0.25"/>
<rect x="142.16" y="98.94" width="1.46" height="1.07" fill="#d9b12c" stroke="#6b5a20" stroke-width="0.25"/>
<rect x="142.16" y="100.01" width="1.46" height="1.99" fill="#2f6aa3" stroke="#1d3550" stroke-width="0.25"/>
<rect x="143.62" y="100.47" width="1.46" height="1.53" fill="#2f6aa3" stroke="#1d3550" stroke-width="0.25"/>
<rect x="147.99" y="100.47" width="1.46" height="1.53" fill="#2f6aa3" stroke="#1d3550" stroke-width="0.25"/>
<rect x="150.91" y="100.47" width="1.46" height="1.53" fill="#2f6aa3" stroke="#1d3550" stroke-width="0.25"/>
<rect x="152.37" y="100.16" width="1.46" height="0.92" fill="#d9b12c" stroke="#6b5a20" stroke-width="0.25"/>
<rect x="152.37" y="101.08" width="1.46" height="0.92" fill="#2f6aa3" stroke="#1d3550" stroke-width="0.25"/>
<rect x="153.82" y="100.47" width="1.46" height="1.53" fill="#2f6aa3" stroke="#1d3550" stroke-width="0.25"/>
<rect x="155.28" y="100.47" width="1.46" height="1.53" fill="#2f6aa3" stroke="#1d3550" stroke-width="0.25"/>
<rect x="40.2" y="54.8" width="36.3" height="47.7" fill="rgba(130,215,130,0.22)" stroke="#62e062" stroke-width="1.3"/>
<rect x="40.50" y="104.0" width="1.3" height="2.5" fill="#a898a6"/><rect x="40.50" y="107.4" width="1.3" height="3.4" fill="#988896"/>
<rect x="44.78" y="104.0" width="1.3" height="2.5" fill="#a898a6"/><rect x="44.78" y="107.4" width="1.3" height="3.4" fill="#988896"/>
<rect x="49.06" y="104.0" width="1.3" height="2.5" fill="#a898a6"/><rect x="49.06" y="107.4" width="1.3" height="3.4" fill="#988896"/>
<rect x="53.34" y="104.0" width="1.3" height="2.5" fill="#a898a6"/><rect x="53.34" y="107.4" width="1.3" height="3.4" fill="#988896"/>
<rect x="57.62" y="104.0" width="1.3" height="2.5" fill="#a898a6"/><rect x="57.62" y="107.4" width="1.3" height="3.4" fill="#988896"/>
<rect x="61.90" y="104.0" width="1.3" height="2.5" fill="#a898a6"/><rect x="61.90" y="107.4" width="1.3" height="3.4" fill="#988896"/>
<rect x="66.18" y="104.0" width="1.3" height="2.5" fill="#a898a6"/><rect x="66.18" y="107.4" width="1.3" height="3.4" fill="#988896"/>
<rect x="70.46" y="104.0" width="1.3" height="2.5" fill="#a898a6"/><rect x="70.46" y="107.4" width="1.3" height="3.4" fill="#988896"/>
<rect x="74.74" y="104.0" width="1.3" height="2.5" fill="#a898a6"/><rect x="74.74" y="107.4" width="1.3" height="3.4" fill="#988896"/>
<rect x="79.02" y="104.0" width="1.3" height="2.5" fill="#a898a6"/><rect x="79.02" y="107.4" width="1.3" height="3.4" fill="#988896"/>
<rect x="83.30" y="104.0" width="1.3" height="2.5" fill="#a898a6"/><rect x="83.30" y="107.4" width="1.3" height="3.4" fill="#988896"/>
<rect x="87.58" y="104.0" width="1.3" height="2.5" fill="#a898a6"/><rect x="87.58" y="107.4" width="1.3" height="3.4" fill="#988896"/>
<rect x="91.86" y="104.0" width="1.3" height="2.5" fill="#a898a6"/><rect x="91.86" y="107.4" width="1.3" height="3.4" fill="#988896"/>
<rect x="96.14" y="104.0" width="1.3" height="2.5" fill="#a898a6"/><rect x="96.14" y="107.4" width="1.3" height="3.4" fill="#988896"/>
<rect x="100.42" y="104.0" width="1.3" height="2.5" fill="#a898a6"/><rect x="100.42" y="107.4" width="1.3" height="3.4" fill="#988896"/>
<rect x="104.70" y="104.0" width="1.3" height="2.5" fill="#a898a6"/><rect x="104.70" y="107.4" width="1.3" height="3.4" fill="#988896"/>
<rect x="108.98" y="104.0" width="1.3" height="2.5" fill="#a898a6"/><rect x="108.98" y="107.4" width="1.3" height="3.4" fill="#988896"/>
<rect x="113.26" y="104.0" width="1.3" height="2.5" fill="#a898a6"/><rect x="113.26" y="107.4" width="1.3" height="3.4" fill="#988896"/>
<rect x="117.54" y="104.0" width="1.3" height="2.5" fill="#a898a6"/><rect x="117.54" y="107.4" width="1.3" height="3.4" fill="#988896"/>
<rect x="121.82" y="104.0" width="1.3" height="2.5" fill="#a898a6"/><rect x="121.82" y="107.4" width="1.3" height="3.4" fill="#988896"/>
<rect x="126.10" y="104.0" width="1.3" height="2.5" fill="#a898a6"/><rect x="126.10" y="107.4" width="1.3" height="3.4" fill="#988896"/>
<rect x="130.38" y="104.0" width="1.3" height="2.5" fill="#a898a6"/><rect x="130.38" y="107.4" width="1.3" height="3.4" fill="#988896"/>
<rect x="134.66" y="104.0" width="1.3" height="2.5" fill="#a898a6"/><rect x="134.66" y="107.4" width="1.3" height="3.4" fill="#988896"/>
<rect x="138.94" y="104.0" width="1.3" height="2.5" fill="#a898a6"/><rect x="138.94" y="107.4" width="1.3" height="3.4" fill="#988896"/>
<rect x="143.22" y="104.0" width="1.3" height="2.5" fill="#a898a6"/><rect x="143.22" y="107.4" width="1.3" height="3.4" fill="#988896"/>
<rect x="147.50" y="104.0" width="1.3" height="2.5" fill="#a898a6"/><rect x="147.50" y="107.4" width="1.3" height="3.4" fill="#988896"/>
<rect x="151.78" y="104.0" width="1.3" height="2.5" fill="#a898a6"/><rect x="151.78" y="107.4" width="1.3" height="3.4" fill="#988896"/>
<rect x="156.06" y="104.0" width="1.3" height="2.5" fill="#a898a6"/><rect x="156.06" y="107.4" width="1.3" height="3.4" fill="#988896"/>
<rect x="56" y="150" width="130" height="92" fill="#fff"/>
<rect x="58.4" y="154.60" width="4.5" height="4.5" fill="url(#pDark)" stroke="#4a5570" stroke-width="0.5"/>
<text x="64" y="158.70" font-size="7.8" fill="#1e1e1e" stroke="#1e1e1e" stroke-width="0.08" textLength="55.8" lengthAdjust="spacingAndGlyphs">Unknown exposure</text>
<clipPath id="c8"><rect x="58.40" y="173.90" width="4.50" height="4.50"/></clipPath>
<rect x="58.40" y="173.90" width="4.50" height="4.50" fill="#fff"/>
<path clip-path="url(#c8)" d="M53.60,173.90L58.10,178.40M55.20,173.90L59.70,178.40M56.80,173.90L61.30,178.40M58.40,173.90L62.90,178.40M60.00,173.90L64.50,178.40M61.60,173.90L66.10,178.40M63.20,173.90L67.70,178.40" stroke="#2862c0" stroke-width="0.6" fill="none"/>
<rect x="58.4" y="173.90" width="4.5" height="4.5" fill="none" stroke="#4a5570" stroke-width="0.5"/>
<text x="64" y="178.00" font-size="7.8" fill="#1e1e1e" stroke="#1e1e1e" stroke-width="0.08" textLength="79.7" lengthAdjust="spacingAndGlyphs">Other festivities/gatherings</text>
<rect x="58.4" y="193.70" width="4.5" height="4.5" fill="url(#pLight)" stroke="#4a5570" stroke-width="0.5"/>
<text x="64" y="197.80" font-size="7.8" fill="#1e1e1e" stroke="#1e1e1e" stroke-width="0.08" textLength="108.8" lengthAdjust="spacingAndGlyphs">Big one-day beer event in Mitterteich</text>
<rect x="58.4" y="213.30" width="4.5" height="4.5" fill="#3d7dbf" stroke="#4a5570" stroke-width="0.5"/>
<text x="64" y="217.40" font-size="7.8" fill="#1e1e1e" stroke="#1e1e1e" stroke-width="0.08" textLength="79.0" lengthAdjust="spacingAndGlyphs">Ski vacation in Austria/Italy</text>
<rect x="58.4" y="232.70" width="4.5" height="4.5" fill="url(#pBold)" stroke="#4a5570" stroke-width="0.5"/>
<text x="64" y="236.80" font-size="7.8" fill="#1e1e1e" stroke="#1e1e1e" stroke-width="0.08" textLength="119.2" lengthAdjust="spacingAndGlyphs">Smaller local beer tradition in Mitterteich</text>
<rect x="174" y="6" width="91" height="29" fill="#fff"/>
<text x="177.6" y="14.40" font-size="8.1" fill="#1e1e1e" stroke="#1e1e1e" stroke-width="0.08" textLength="80.2" lengthAdjust="spacingAndGlyphs">10/03/2020: Cancellation of</text>
<text x="177.6" y="23.00" font-size="8.1" fill="#1e1e1e" stroke="#1e1e1e" stroke-width="0.08" textLength="73.0" lengthAdjust="spacingAndGlyphs">all events with more than</text>
<text x="177.6" y="31.20" font-size="8.1" fill="#1e1e1e" stroke="#1e1e1e" stroke-width="0.08" textLength="79.8" lengthAdjust="spacingAndGlyphs">1,000 expected participants</text>
<rect x="173" y="98" width="113" height="27" fill="#fff"/>
<text x="177.5" y="105.60" font-size="8.1" fill="#1e1e1e" stroke="#1e1e1e" stroke-width="0.08" textLength="103.4" lengthAdjust="spacingAndGlyphs">12/03/2020: Introduction of 14-day</text>
<text x="177.5" y="114.10" font-size="8.1" fill="#1e1e1e" stroke="#1e1e1e" stroke-width="0.08" textLength="91.5" lengthAdjust="spacingAndGlyphs">quarantine for people returning</text>
<text x="177.5" y="122.20" font-size="8.1" fill="#1e1e1e" stroke="#1e1e1e" stroke-width="0.08" textLength="101.3" lengthAdjust="spacingAndGlyphs">from Austria, Italy, and Switzerland</text>
<rect x="203" y="214" width="65" height="30" fill="#fff"/>
<text x="207.1" y="224.70" font-size="8.1" fill="#1e1e1e" stroke="#1e1e1e" stroke-width="0.08" textLength="36.7" lengthAdjust="spacingAndGlyphs">07/03/2020:</text>
<text x="207.1" y="232.90" font-size="8.1" fill="#1e1e1e" stroke="#1e1e1e" stroke-width="0.08" textLength="48.4" lengthAdjust="spacingAndGlyphs">Big one-day beer</text>
<text x="207.1" y="241.50" font-size="8.1" fill="#1e1e1e" stroke="#1e1e1e" stroke-width="0.08" textLength="57.1" lengthAdjust="spacingAndGlyphs">event in Mitterteich</text>
<rect x="205" y="293" width="78" height="27" fill="#fff"/>
<text x="208.1" y="301.50" font-size="8.1" fill="#1e1e1e" stroke="#1e1e1e" stroke-width="0.08" textLength="57.2" lengthAdjust="spacingAndGlyphs">03/03-07/03/2020:</text>
<text x="208.1" y="310.30" font-size="8.1" fill="#1e1e1e" stroke="#1e1e1e" stroke-width="0.08" textLength="50.4" lengthAdjust="spacingAndGlyphs">Smaller local beer</text>
<text x="208.1" y="318.60" font-size="8.1" fill="#1e1e1e" stroke="#1e1e1e" stroke-width="0.08" textLength="65.9" lengthAdjust="spacingAndGlyphs">tradition in Mitterteich</text>
<rect x="108" y="342" width="83.5" height="18" fill="#fff"/>
<text x="111.9" y="349.40" font-size="8.1" fill="#1e1e1e" stroke="#1e1e1e" stroke-width="0.08" textLength="56.1" lengthAdjust="spacingAndGlyphs">24/02-28/02/2020:</text>
<text x="111.9" y="358.10" font-size="8.1" fill="#1e1e1e" stroke="#1e1e1e" stroke-width="0.08" textLength="75.3" lengthAdjust="spacingAndGlyphs">Winter holidays in Bavaria</text>
<polyline points="268.5,10.3 317.5,10.3 317.5,24.6" fill="none" stroke="#7ea8dc" stroke-width="0.7"/>
<polyline points="316.1,21.6 317.5,24.8 318.9,21.6" fill="none" stroke="#7ea8dc" stroke-width="0.7"/>
<polyline points="286.8,113.6 345.5,113.6 345.5,128.7" fill="none" stroke="#7ea8dc" stroke-width="0.7"/>
<polyline points="344.0,125.7 345.5,128.9 347.0,125.7" fill="none" stroke="#7ea8dc" stroke-width="0.7"/>
<polyline points="268.6,229.4 279.5,229.4 279.5,291.7" fill="none" stroke="#7ea8dc" stroke-width="0.7"/>
<polyline points="278.0,288.7 279.5,291.9 281.0,288.7" fill="none" stroke="#7ea8dc" stroke-width="0.7"/>
<path d="M224.3,338.6 L224.3,334.90000000000003 Q224.3,333.6 225.60000000000002,333.6 L252.29999999999998,333.6 Q253.6,333.6 253.6,332.3 L253.6,327.9 M253.6,332.3 Q253.6,333.6 254.9,333.6 L280.9,333.6 Q282.2,333.6 282.2,334.90000000000003 L282.2,338.6" fill="none" stroke="#7ea8dc" stroke-width="0.7"/>
<path d="M122.0,377.5 L122.0,373.6 Q122.0,372.3 123.3,372.3 L149.39999999999998,372.3 Q150.7,372.3 150.7,371.0 L150.7,367.4 M150.7,371.0 Q150.7,372.3 152.0,372.3 L178.1,372.3 Q179.4,372.3 179.4,373.6 L179.4,377.5" fill="none" stroke="#7ea8dc" stroke-width="0.7"/>
<text transform="translate(36.32,400.3) rotate(-45)" font-size="7.0" text-anchor="end" fill="#1a1a1a" stroke="#1a1a1a" stroke-width="0.05" textLength="17.6" lengthAdjust="spacingAndGlyphs">17.02.</text>
<text transform="translate(49.17,400.3) rotate(-45)" font-size="7.0" text-anchor="end" fill="#1a1a1a" stroke="#1a1a1a" stroke-width="0.05" textLength="17.6" lengthAdjust="spacingAndGlyphs">18.02.</text>
<text transform="translate(62.02,400.3) rotate(-45)" font-size="7.0" text-anchor="end" fill="#1a1a1a" stroke="#1a1a1a" stroke-width="0.05" textLength="17.6" lengthAdjust="spacingAndGlyphs">19.02.</text>
<text transform="translate(74.87,400.3) rotate(-45)" font-size="7.0" text-anchor="end" fill="#1a1a1a" stroke="#1a1a1a" stroke-width="0.05" textLength="17.6" lengthAdjust="spacingAndGlyphs">20.02.</text>
<text transform="translate(87.72,400.3) rotate(-45)" font-size="7.0" text-anchor="end" fill="#1a1a1a" stroke="#1a1a1a" stroke-width="0.05" textLength="17.6" lengthAdjust="spacingAndGlyphs">21.02.</text>
<text transform="translate(100.58,400.3) rotate(-45)" font-size="7.0" text-anchor="end" fill="#1a1a1a" stroke="#1a1a1a" stroke-width="0.05" textLength="17.6" lengthAdjust="spacingAndGlyphs">22.02.</text>
<text transform="translate(113.42,400.3) rotate(-45)" font-size="7.0" text-anchor="end" fill="#1a1a1a" stroke="#1a1a1a" stroke-width="0.05" textLength="17.6" lengthAdjust="spacingAndGlyphs">23.02.</text>
<text transform="translate(126.27,400.3) rotate(-45)" font-size="7.0" text-anchor="end" fill="#1a1a1a" stroke="#1a1a1a" stroke-width="0.05" textLength="17.6" lengthAdjust="spacingAndGlyphs">24.02.</text>
<text transform="translate(139.12,400.3) rotate(-45)" font-size="7.0" text-anchor="end" fill="#1a1a1a" stroke="#1a1a1a" stroke-width="0.05" textLength="17.6" lengthAdjust="spacingAndGlyphs">25.02.</text>
<text transform="translate(151.97,400.3) rotate(-45)" font-size="7.0" text-anchor="end" fill="#1a1a1a" stroke="#1a1a1a" stroke-width="0.05" textLength="17.6" lengthAdjust="spacingAndGlyphs">26.02.</text>
<text transform="translate(164.83,400.3) rotate(-45)" font-size="7.0" text-anchor="end" fill="#1a1a1a" stroke="#1a1a1a" stroke-width="0.05" textLength="17.6" lengthAdjust="spacingAndGlyphs">27.02.</text>
<text transform="translate(177.68,400.3) rotate(-45)" font-size="7.0" text-anchor="end" fill="#1a1a1a" stroke="#1a1a1a" stroke-width="0.05" textLength="17.6" lengthAdjust="spacingAndGlyphs">28.02.</text>
<text transform="translate(190.53,400.3) rotate(-45)" font-size="7.0" text-anchor="end" fill="#1a1a1a" stroke="#1a1a1a" stroke-width="0.05" textLength="17.6" lengthAdjust="spacingAndGlyphs">29.02.</text>
<text transform="translate(203.38,400.3) rotate(-45)" font-size="7.0" text-anchor="end" fill="#1a1a1a" stroke="#1a1a1a" stroke-width="0.05" textLength="17.6" lengthAdjust="spacingAndGlyphs">01.03.</text>
<text transform="translate(216.23,400.3) rotate(-45)" font-size="7.0" text-anchor="end" fill="#1a1a1a" stroke="#1a1a1a" stroke-width="0.05" textLength="17.6" lengthAdjust="spacingAndGlyphs">02.03.</text>
<text transform="translate(229.08,400.3) rotate(-45)" font-size="7.0" text-anchor="end" fill="#1a1a1a" stroke="#1a1a1a" stroke-width="0.05" textLength="17.6" lengthAdjust="spacingAndGlyphs">03.03.</text>
<text transform="translate(241.93,400.3) rotate(-45)" font-size="7.0" text-anchor="end" fill="#1a1a1a" stroke="#1a1a1a" stroke-width="0.05" textLength="17.6" lengthAdjust="spacingAndGlyphs">04.03.</text>
<text transform="translate(254.78,400.3) rotate(-45)" font-size="7.0" text-anchor="end" fill="#1a1a1a" stroke="#1a1a1a" stroke-width="0.05" textLength="17.6" lengthAdjust="spacingAndGlyphs">05.03.</text>
<text transform="translate(267.62,400.3) rotate(-45)" font-size="7.0" text-anchor="end" fill="#1a1a1a" stroke="#1a1a1a" stroke-width="0.05" textLength="17.6" lengthAdjust="spacingAndGlyphs">06.03.</text>
<text transform="translate(280.48,400.3) rotate(-45)" font-size="7.0" text-anchor="end" fill="#1a1a1a" stroke="#1a1a1a" stroke-width="0.05" textLength="17.6" lengthAdjust="spacingAndGlyphs">07.03.</text>
<text transform="translate(293.32,400.3) rotate(-45)" font-size="7.0" text-anchor="end" fill="#1a1a1a" stroke="#1a1a1a" stroke-width="0.05" textLength="17.6" lengthAdjust="spacingAndGlyphs">08.03.</text>
<text transform="translate(306.17,400.3) rotate(-45)" font-size="7.0" text-anchor="end" fill="#1a1a1a" stroke="#1a1a1a" stroke-width="0.05" textLength="17.6" lengthAdjust="spacingAndGlyphs">09.03.</text>
<text transform="translate(319.02,400.3) rotate(-45)" font-size="7.0" text-anchor="end" fill="#1a1a1a" stroke="#1a1a1a" stroke-width="0.05" textLength="17.6" lengthAdjust="spacingAndGlyphs">10.03.</text>
<text transform="translate(331.88,400.3) rotate(-45)" font-size="7.0" text-anchor="end" fill="#1a1a1a" stroke="#1a1a1a" stroke-width="0.05" textLength="17.6" lengthAdjust="spacingAndGlyphs">11.03.</text>
<text transform="translate(344.72,400.3) rotate(-45)" font-size="7.0" text-anchor="end" fill="#1a1a1a" stroke="#1a1a1a" stroke-width="0.05" textLength="17.6" lengthAdjust="spacingAndGlyphs">12.03.</text>
<text x="150.2" y="422.6" font-size="7.1" font-weight="bold" fill="#202020" textLength="77.6" lengthAdjust="spacingAndGlyphs">Onset of symptoms (2020)</text>
<text transform="translate(6.2,247.0) rotate(-90)" font-size="7.0" font-weight="bold" fill="#202020" textLength="77.8" lengthAdjust="spacingAndGlyphs">Number of reported cases</text>
</svg></body></html>
